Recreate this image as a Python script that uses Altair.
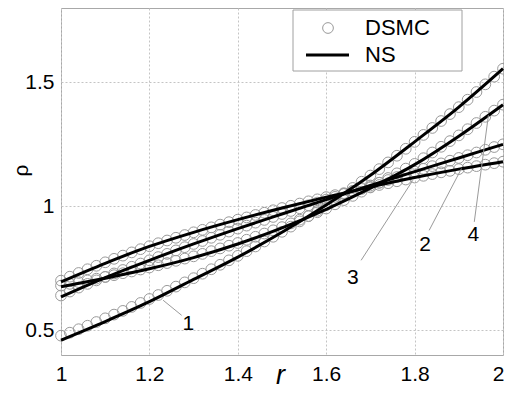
import altair as alt
import pandas as pd

# ---------------- data ----------------
r_ns = [1.0, 1.1, 1.2, 1.3, 1.4, 1.5, 1.6, 1.7, 1.8, 1.9, 2.0]
ns_1 = [0.460, 0.535, 0.615, 0.705, 0.795, 0.895, 1.005, 1.125, 1.260, 1.400, 1.555]
ns_2 = [0.695, 0.770, 0.838, 0.895, 0.946, 0.993, 1.037, 1.078, 1.116, 1.150, 1.180]
ns_3 = [0.634, 0.712, 0.782, 0.848, 0.910, 0.969, 1.027, 1.084, 1.140, 1.195, 1.250]
ns_4 = [0.675, 0.710, 0.748, 0.793, 0.848, 0.913, 0.988, 1.073, 1.168, 1.283, 1.410]

r_dsmc = [round(1.0 + 0.02 * i, 2) for i in range(51)]
dsmc_1 = [0.478, 0.490, 0.504, 0.518, 0.533, 0.548, 0.563, 0.578, 0.594, 0.610,
          0.626, 0.642, 0.659, 0.676, 0.693, 0.710, 0.728, 0.746, 0.764, 0.782,
          0.800, 0.819, 0.838, 0.858, 0.877, 0.897, 0.918, 0.939, 0.960, 0.982,
          1.004, 1.027, 1.050, 1.074, 1.099, 1.124, 1.150, 1.177, 1.204, 1.232,
          1.260, 1.288, 1.316, 1.344, 1.372, 1.400, 1.430, 1.461, 1.492, 1.523,
          1.555]
dsmc_2 = [0.700, 0.716, 0.731, 0.746, 0.760, 0.774, 0.788, 0.801, 0.814, 0.827,
          0.839, 0.851, 0.862, 0.873, 0.884, 0.895, 0.905, 0.915, 0.926, 0.936,
          0.946, 0.955, 0.965, 0.974, 0.984, 0.993, 1.002, 1.011, 1.020, 1.028,
          1.037, 1.045, 1.053, 1.062, 1.070, 1.078, 1.086, 1.093, 1.101, 1.108,
          1.116, 1.123, 1.130, 1.137, 1.143, 1.150, 1.156, 1.162, 1.168, 1.174,
          1.180]
dsmc_3 = [0.640, 0.656, 0.672, 0.687, 0.701, 0.715, 0.729, 0.743, 0.756, 0.769,
          0.782, 0.795, 0.808, 0.822, 0.835, 0.848, 0.860, 0.873, 0.885, 0.898,
          0.910, 0.922, 0.934, 0.945, 0.957, 0.969, 0.981, 0.992, 1.004, 1.015,
          1.027, 1.038, 1.050, 1.061, 1.073, 1.084, 1.095, 1.106, 1.118, 1.129,
          1.140, 1.151, 1.162, 1.173, 1.184, 1.195, 1.206, 1.217, 1.228, 1.239,
          1.250]
dsmc_4 = [0.680, 0.687, 0.694, 0.701, 0.708, 0.715, 0.722, 0.730, 0.737, 0.745,
          0.753, 0.762, 0.771, 0.780, 0.789, 0.798, 0.808, 0.819, 0.830, 0.841,
          0.852, 0.865, 0.877, 0.890, 0.903, 0.916, 0.931, 0.946, 0.961, 0.976,
          0.991, 1.008, 1.025, 1.042, 1.059, 1.076, 1.095, 1.114, 1.133, 1.152,
          1.171, 1.194, 1.217, 1.240, 1.263, 1.286, 1.311, 1.336, 1.361, 1.386,
          1.410]

# curve labels and leader lines (data coordinates)
lab_text = ["1", "3", "2", "4"]
lab_r = [1.288, 1.660, 1.824, 1.933]
lab_rho = [0.527, 0.712, 0.843, 0.883]
lead_r1 = [1.273, 1.679, 1.833, 1.935]
lead_rho1 = [0.560, 0.782, 0.903, 0.937]
lead_r2 = [1.231, 1.796, 1.906, 1.967]
lead_rho2 = [0.621, 1.105, 1.152, 1.367]

x_ticks = [1.0, 1.2, 1.4, 1.6, 1.8, 2.0]
y_ticks = [0.5, 1.0, 1.5]

# ---------------- tables ----------------
ns_df = pd.concat([
    pd.DataFrame({"r": r_ns, "rho": v, "curve": c})
    for c, v in zip(["1", "2", "3", "4"], [ns_1, ns_2, ns_3, ns_4])
])
dsmc_df = pd.concat([
    pd.DataFrame({"r": r_dsmc, "rho": v, "curve": c})
    for c, v in zip(["1", "2", "3", "4"], [dsmc_1, dsmc_2, dsmc_3, dsmc_4])
])
lab_df = pd.DataFrame({"t": lab_text, "r": lab_r, "rho": lab_rho})
lead_df = pd.DataFrame({"r": lead_r1, "rho": lead_rho1, "r2": lead_r2, "rho2": lead_rho2})

FONT = "Liberation Sans"
xs = alt.Scale(domain=[1, 2], nice=False, zero=False)
ys = alt.Scale(domain=[0.4, 1.8], nice=False, zero=False)

x_axis = alt.Axis(values=x_ticks, format="~g", title="r", grid=True,
                  titleFontStyle="italic", titleFontSize=27, titleFontWeight="normal",
                  titleX=219, titleY=28, titleBaseline="alphabetic",
                  labelPadding=8,
                  labelAlign={"condition": {"test": "datum.value >= 2", "value": "right"},
                              "value": "center"},
                  labelOffset={"condition": {"test": "datum.value >= 2", "value": 1},
                               "value": 0})
y_axis = alt.Axis(values=y_ticks, format="~g", title="ρ", grid=True,
                  titleFontSize=21, titleFontWeight="normal",
                  titleX=-34, titleY=162, titleBaseline="alphabetic",
                  labelPadding=7)

X = alt.X("r:Q", scale=xs, axis=x_axis)
Y = alt.Y("rho:Q", scale=ys, axis=y_axis)

circles = alt.Chart(dsmc_df).mark_point(
    shape="circle", filled=False, size=115, color="#9a9a9a", strokeWidth=1, opacity=1
).encode(x=X, y=Y, detail="curve:N")

lines = alt.Chart(ns_df).mark_line(
    color="black", strokeWidth=3, interpolate="monotone"
).encode(x=X, y=Y, detail="curve:N")

leaders = alt.Chart(lead_df).mark_rule(color="#9a9a9a", strokeWidth=1).encode(
    x=X, y=Y, x2="r2:Q", y2="rho2:Q",
)

labels = alt.Chart(lab_df).mark_text(
    font=FONT, fontSize=21, color="black", align="center", baseline="middle"
).encode(x=X, y=Y, text="t:N")

# ---------------- legend box ----------------
one = pd.DataFrame({"a": [0]})
leg_box = alt.Chart(one).mark_rect(fill="white", stroke="#a0a0a0", strokeWidth=1).encode(
    x=alt.value(232), x2=alt.value(401), y=alt.value(2), y2=alt.value(63)
)
leg_circle = alt.Chart(one).mark_point(
    shape="circle", filled=False, size=115, color="#9a9a9a", strokeWidth=1, opacity=1
).encode(x=alt.value(267), y=alt.value(20))
leg_line = alt.Chart(one).mark_rule(color="black", strokeWidth=3).encode(
    x=alt.value(245), x2=alt.value(288), y=alt.value(47)
)
leg_t1 = alt.Chart(one).mark_text(
    font=FONT, fontSize=22, align="left", baseline="middle", color="black", text="DSMC"
).encode(x=alt.value(304), y=alt.value(20))
leg_t2 = alt.Chart(one).mark_text(
    font=FONT, fontSize=22, align="left", baseline="middle", color="black", text="NS"
).encode(x=alt.value(304), y=alt.value(47))

chart = alt.layer(
    circles, lines, leaders, labels, leg_box, leg_circle, leg_line, leg_t1, leg_t2
).properties(
    width=442, height=347,
    autosize=alt.AutoSizeParams(type="none"),
    padding={"left": 53, "top": 0, "right": 1, "bottom": 34},
    background="white",
).configure_view(
    stroke="#a8a8a8", strokeWidth=1
).configure_axis(
    labelFont=FONT, labelFontSize=21, labelColor="black",
    titleFont=FONT, titleColor="black",
    domain=False, ticks=False,
    gridColor="#c4c4c4", gridDash=[2, 2], gridWidth=1,
)

chart.save("out.html", embed_options={"renderer": "svg", "actions": False})
